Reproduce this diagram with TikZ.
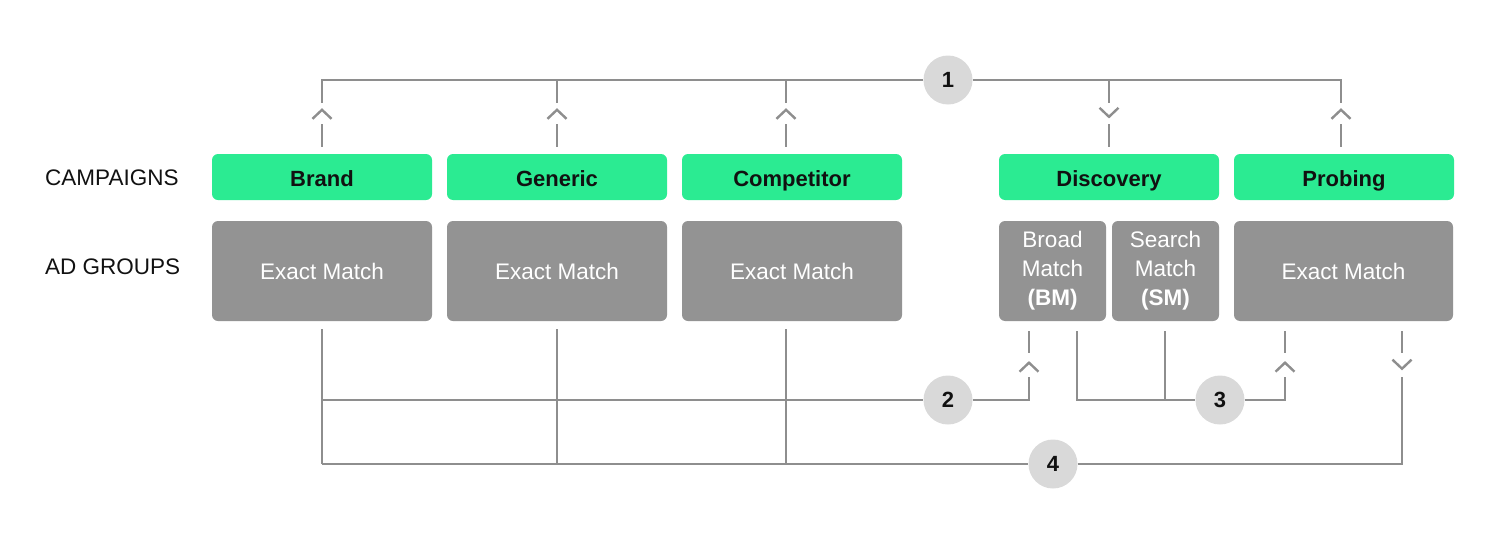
\documentclass[tikz,border=0pt]{standalone}
\usepackage{fontspec}
\setmainfont{Liberation Sans}
\usetikzlibrary{calc}
\definecolor{grn}{HTML}{2BEB92}
\definecolor{gbox}{HTML}{939393}
\definecolor{ln}{HTML}{8E8E8E}
\definecolor{circ}{HTML}{D9D9D9}
\definecolor{ink}{HTML}{111111}
\begin{document}
\begin{tikzpicture}[x=1pt,y=-1pt,
  camp/.style={fill=grn, rounded corners=6pt, minimum width=220pt, minimum height=46pt, inner sep=0pt, text height=22pt, text depth=4pt, text=ink, font=\fontsize{22}{26}\selectfont\bfseries},
  adg/.style={fill=gbox, rounded corners=6pt, minimum height=100pt, inner sep=0pt, text=white, align=center, font=\fontsize{22.5}{29}\selectfont},
  num/.style={circle, fill=circ, minimum size=49pt, inner sep=0pt, text=ink, font=\fontsize{22}{26}\selectfont\bfseries},
  lab/.style={anchor=west, inner sep=0pt, text=ink, font=\fontsize{22.5}{26}\selectfont},
  conn/.style={draw=ln, line width=2.4pt},
  upchev/.pic={\draw[conn] (-9.5,4.5) -- (0,-4.5) -- (9.5,4.5);},
  downchev/.pic={\draw[conn] (-9.5,-4.5) -- (0,4.5) -- (9.5,-4.5);}
]
\useasboundingbox (0,0) rectangle (1500,549);

% row labels
\node[lab] (lc) at (45,178) {CAMPAIGNS};
\node[lab] (la) at (45,267) {AD GROUPS};

% campaigns
\node[camp] (brand) at (322,177) {Brand};
\node[camp] (generic) at (557,177) {Generic};
\node[camp] (comp) at (792,177) {Competitor};
\node[camp] (disc) at (1109,177) {Discovery};
\node[camp] (prob) at (1344,177) {Probing};

% ad groups
\node[adg, minimum width=220pt] (ebrand) at (322,271) {Exact Match};
\node[adg, minimum width=220pt] (egen) at (557,271) {Exact Match};
\node[adg, minimum width=220pt] (ecomp) at (792,271) {Exact Match};
\node[adg, minimum width=107pt] (bm) at (1052.5,271) {Broad\\Match\\\textbf{(BM)}};
\node[adg, minimum width=107pt] (sm) at (1165.5,271) {Search\\Match\\\textbf{(SM)}};
\node[adg, minimum width=219pt] (eprob) at (1343.5,271) {Exact Match};

% circles
\node[num] (c1) at (948,80) {1};
\node[num] (c2) at (948,400) {2};
\node[num] (c3) at (1220,400) {3};
\node[num] (c4) at (1053,464) {4};

% ---- connector 1 (top)
\coordinate (tb) at (brand.north);
\coordinate (tg) at (generic.north);
\coordinate (tc) at ($(comp.north)+(-6,0)$);
\coordinate (td) at (disc.north);
\coordinate (tp) at ($(prob.north)+(-3,0)$);
\draw[conn] (c1.west) -- (tb |- c1) -- ++(0,23);
\draw[conn] (c1.east) -- (tp |- c1) -- ++(0,23);
\draw[conn] (tg |- c1) -- ++(0,23);
\draw[conn] (tc |- c1) -- ++(0,23);
\draw[conn] (td |- c1) -- ++(0,23);
\foreach \c in {tb,tg,tc,td,tp}{
  \draw[conn] ($(\c)+(0,-7)$) -- ($(\c)+(0,-30)$);
}
\foreach \c in {tb,tg,tc,tp}{
  \pic at ($(\c)+(0,-39.5)$) {upchev};
}
\pic at ($(td)+(0,-41.5)$) {downchev};

% ---- bottom connectors
\coordinate (bb) at ($(ebrand.south)+(0,8)$);
\coordinate (bg) at ($(egen.south)+(0,8)$);
\coordinate (bc) at ($(ecomp.south)+(-6,8)$);
\coordinate (bmin) at ($(bm.south)+(-23.5,10)$);
\coordinate (bmout) at ($(bm.south)+(24.5,10)$);
\coordinate (smout) at ($(sm.south)+(-0.5,10)$);
\coordinate (pin) at ($(eprob.south)+(-58.5,10)$);
\coordinate (pout) at ($(eprob.south)+(58.5,10)$);

% verticals from exact match groups
\draw[conn] (bb) -- (bb |- c4);
\draw[conn] (bg) -- (bg |- c4);
\draw[conn] (bc) -- (bc |- c4);

% connector 2
\draw[conn] (bb |- c2) -- (c2.west);
\draw[conn] (c2.east) -- (bmin |- c2) -- ++(0,-23);
\pic at ($(bmin)+(0,36)$) {upchev};
\draw[conn] (bmin) -- ++(0,22);

% connector 3
\draw[conn] (bmout) -- (bmout |- c3) -- (c3.west);
\draw[conn] (smout) -- (smout |- c3);
\draw[conn] (c3.east) -- (pin |- c3) -- ++(0,-23);
\pic at ($(pin)+(0,36)$) {upchev};
\draw[conn] (pin) -- ++(0,22);

% connector 4
\draw[conn] (bb |- c4) -- (c4.west);
\draw[conn] (c4.east) -- (pout |- c4) -- ($(pout)+(0,46)$);
\pic at ($(pout)+(0,33)$) {downchev};
\draw[conn] (pout) -- ++(0,22);
\end{tikzpicture}
\end{document}
